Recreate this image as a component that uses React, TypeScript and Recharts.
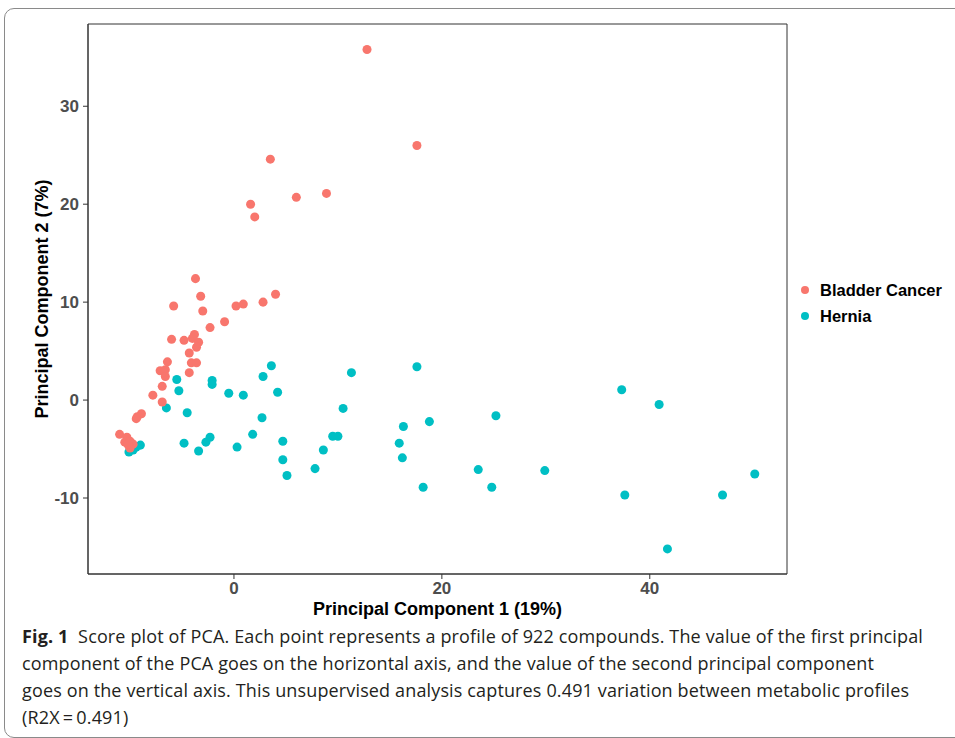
import React from 'react';
import { ScatterChart, Scatter, XAxis, YAxis, ZAxis, ReferenceArea } from 'recharts';

// PCA scores
const bladderX = [12.8, 17.6, 3.5, 8.9, 6.0, 1.6, 2.0, -3.7, -3.2, -5.8, -3.0, 0.2, 0.9, 2.8, 4.0, -0.9, -2.3, -6.0, -4.8, -3.8, -4.0, -3.4, -3.6, -4.3, -6.4, -4.1, -3.6, -7.1, -6.6, -6.6, -4.3, -6.9, -7.8, -6.9, -8.9, -9.3, -9.4, -11.0, -10.3, -10.5, -10.0, -9.7, -10.1, -10.0, -10.2];
const bladderY = [35.8, 26.0, 24.6, 21.1, 20.7, 20.0, 18.7, 12.4, 10.6, 9.6, 9.1, 9.6, 9.8, 10.0, 10.8, 8.0, 7.4, 6.2, 6.1, 6.7, 6.3, 5.9, 5.4, 4.8, 3.9, 3.8, 3.8, 3.0, 3.1, 2.4, 2.8, 1.4, 0.5, -0.2, -1.4, -1.7, -1.9, -3.5, -3.8, -4.3, -4.2, -4.5, -4.7, -4.9, -4.5];

const herniaX = [-5.5, -5.3, -6.5, -4.5, -2.1, -2.1, -0.5, 0.9, 3.6, 2.8, 4.2, 2.7, 11.3, 10.5, 9.5, 10.0, 8.6, 7.8, 1.8, 0.3, 4.7, 4.7, 5.1, -2.3, -2.7, -3.4, -4.8, -9.0, -9.4, -10.1, -9.7, 17.6, 16.3, 18.8, 15.9, 16.2, 18.2, 25.2, 23.5, 24.8, 29.9, 37.3, 40.9, 37.6, 47.0, 50.1, 41.7];
const herniaY = [2.1, 0.95, -0.8, -1.3, 2.0, 1.6, 0.7, 0.5, 3.5, 2.4, 0.8, -1.8, 2.8, -0.85, -3.7, -3.7, -5.1, -7.0, -3.5, -4.8, -4.2, -6.1, -7.7, -3.8, -4.3, -5.2, -4.4, -4.6, -4.8, -5.3, -5.1, 3.4, -2.7, -2.2, -4.4, -5.9, -8.9, -1.6, -7.1, -8.9, -7.2, 1.05, -0.45, -9.7, -9.7, -7.55, -15.2];

const xTicks = [0, 20, 40];
const yTicks = [-10, 0, 10, 20, 30];
const xDomain = [-14.04, 53.2];
const yDomain = [-17.76, 38.4];

const groups = ['Bladder Cancer', 'Hernia'];
const groupColors = ['#F8766D', '#00BFC4'];

const captionLines = [
  'component of the PCA goes on the horizontal axis, and the value of the second principal component',
  'goes on the vertical axis. This unsupervised analysis captures 0.491 variation between metabolic profiles',
  '(R2X\u2009=\u20090.491)',
];

const bladderData = bladderX.map((x, i) => ({ x, y: bladderY[i] }));
const herniaData = herniaX.map((x, i) => ({ x, y: herniaY[i] }));

const chartFont = '"Liberation Sans", Arial, sans-serif';
const captionFont = '"Open Sans", "Noto Sans", sans-serif';

const tickStyle = { fill: '#4d4d4d', fontSize: 17, fontWeight: 'bold', fontFamily: chartFont };

export default function App() {
  return (
    <div style={{ position: 'absolute', left: 0, top: 0, width: 955, height: 738, overflow: 'hidden', background: '#fff' }}>
      {/* figure frame */}
      <div style={{ position: 'absolute', left: 4, top: 8, width: 1000, height: 728, border: '1px solid #8a8a8a', borderRadius: 10 }} />

      <div style={{ position: 'absolute', left: 0, top: 0 }}>
        <ScatterChart width={955} height={625} margin={{ top: 24, right: 168, bottom: 21, left: 28 }}>
          <XAxis
            type="number"
            dataKey="x"
            domain={xDomain}
            ticks={xTicks}
            allowDataOverflow
            height={30}
            tickSize={5}
            tickMargin={3}
            tick={tickStyle}
            stroke="#333"
          />
          <YAxis
            type="number"
            dataKey="y"
            domain={yDomain}
            ticks={yTicks}
            allowDataOverflow
            width={60}
            tickSize={5}
            tickMargin={4}
            tick={tickStyle}
            stroke="#333"
          />
          <ZAxis range={[64, 64]} />
          <ReferenceArea x1={xDomain[0]} x2={xDomain[1]} y1={yDomain[0]} y2={yDomain[1]} fill="none" stroke="#333" strokeWidth={1} />
          <Scatter name={groups[1]} data={herniaData} fill={groupColors[1]} isAnimationActive={false} />
          <Scatter name={groups[0]} data={bladderData} fill={groupColors[0]} isAnimationActive={false} />
        </ScatterChart>
      </div>

      {/* axis titles */}
      <div style={{ position: 'absolute', left: 88, width: 699, top: 599, lineHeight: '21px', textAlign: 'center', fontFamily: chartFont, fontWeight: 'bold', fontSize: 18, color: '#000' }}>
        Principal Component 1 (19%)
      </div>
      <div style={{ position: 'absolute', left: 42, top: 299, width: 0, height: 0 }}>
        <div style={{ position: 'absolute', left: -150, top: -11, width: 300, height: 22, lineHeight: '22px', textAlign: 'center', transform: 'rotate(-90deg)', fontFamily: chartFont, fontWeight: 'bold', fontSize: 18, color: '#000', whiteSpace: 'nowrap' }}>
          Principal Component 2 (7%)
        </div>
      </div>

      {/* legend */}
      {groups.map((g, i) => (
        <div key={g} style={{ position: 'absolute', left: 801, top: 280 + i * 26, height: 20, display: 'flex', alignItems: 'center', fontFamily: chartFont, fontWeight: 'bold', fontSize: 16.5, color: '#000', whiteSpace: 'nowrap' }}>
          <span style={{ display: 'inline-block', width: 8, height: 8, borderRadius: 4, background: groupColors[i], marginRight: 11 }} />
          {g}
        </div>
      ))}

      {/* caption */}
      <div style={{ position: 'absolute', left: 22, top: 623, fontFamily: captionFont, fontSize: 18, lineHeight: '27px', color: '#231f20', whiteSpace: 'nowrap', letterSpacing: 0.14 }}>
        <div>
          <span style={{ fontWeight: 'bold' }}>Fig. 1</span>
          {'\u00a0 Score plot of PCA. Each point represents a profile of 922 compounds. The value of the first principal'}
        </div>
        {captionLines.map((line) => (
          <div key={line}>{line}</div>
        ))}
      </div>
    </div>
  );
}
